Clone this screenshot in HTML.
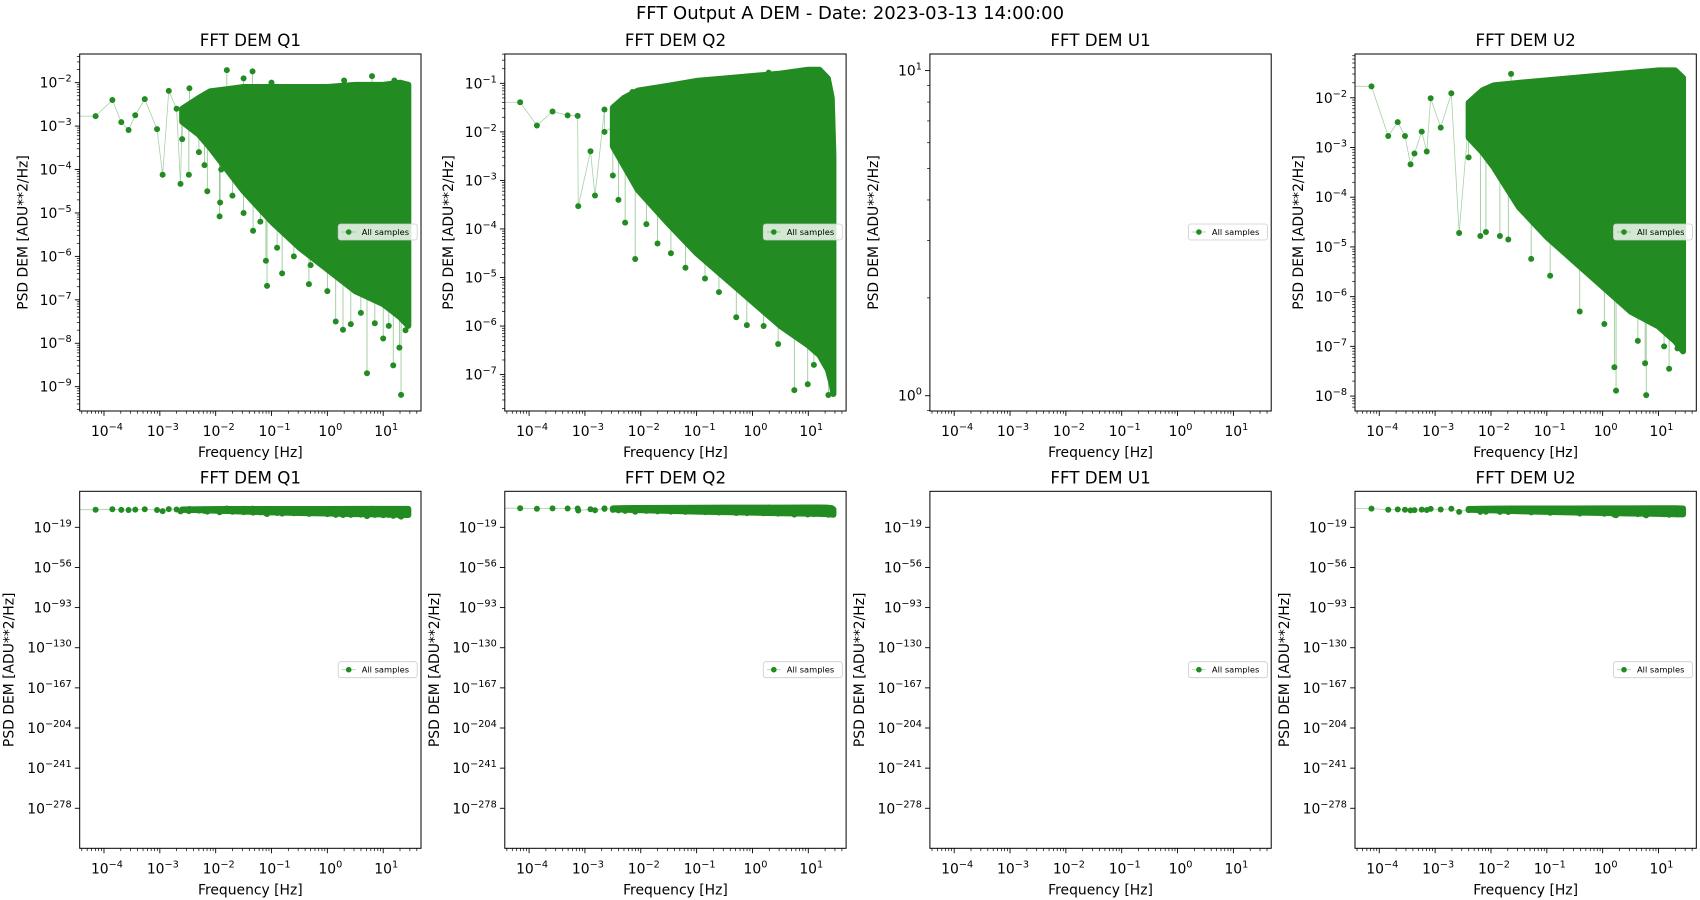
<!DOCTYPE html>
<html><head><meta charset="utf-8"><style>
html,body{margin:0;padding:0;background:#fff}
svg{display:block;font-family:"DejaVu Sans","Liberation Sans",sans-serif}
</style></head><body>
<svg id="fig" width="1700" height="900" viewBox="0 0 1700 900" xmlns="http://www.w3.org/2000/svg">
<rect width="1700" height="900" fill="#fff"/>
<text x="850" y="19" text-anchor="middle" font-size="18">FFT Output A DEM - Date: 2023-03-13 14:00:00</text>
</svg>
<script>
// ---- data (log10 values) ----
const panelTitles = ["FFT DEM Q1","FFT DEM Q2","FFT DEM U1","FFT DEM U2"];
const xTickExps = [-4,-3,-2,-1,0,1];
const topYLims = [[-9.56,-1.34],[-7.75,-0.396],[-0.047,1.051],[-8.3,-1.12]];
const topYTicks = [[-9,-8,-7,-6,-5,-4,-3,-2],[-7,-6,-5,-4,-3,-2,-1],[0,1],[-8,-7,-6,-5,-4,-3,-2]];
const bottomYLim = [-314.9,14.2];
const bottomYTicks = [-19,-56,-93,-130,-167,-204,-241,-278];

const q1EnvF  = [-2.6,-2.3,-2.1,-1.8,-1.5,-1,-0.5,0,0.5,1,1.3,1.45];
const q1EnvHi = [-2.6,-2.35,-2.2,-2.15,-2.1,-2.1,-2.1,-2.1,-2.05,-2.05,-2.0,-2.05];
const q1EnvLo = [-2.9,-3.2,-3.5,-4.0,-4.5,-5.2,-5.8,-6.3,-6.8,-7.1,-7.4,-7.6];
const q1PtsF = [-4.15,-3.85,-3.69,-3.56,-3.44,-3.27,-3.05,-2.95,-2.84,-2.7,-2.63,-2.6,-2.48,-2.47,-2.4,-2.3,-2.2,-2.2,-2.15,-1.93,-1.92,-1.9,-1.8,-1.7,-1.5,-1.5,-1.34,-1.33,-1.2,-1.1,-1.08,-1.0,-0.9,-0.81,-0.6,-0.33,-0.3,0,0.15,0.28,0.3,0.42,0.6,0.71,0.8,0.85,1.0,1.1,1.18,1.2,1.29,1.32,1.4];
const q1PtsP = [-2.77,-2.40,-2.91,-3.09,-2.75,-2.38,-3.07,-4.12,-2.19,-2.6,-4.33,-3.3,-4.12,-2.13,-2.9,-3.6,-2.3,-3.9,-4.5,-5.08,-4.76,-4.0,-1.71,-4.6,-5.0,-1.9,-1.74,-5.41,-5.2,-6.10,-6.68,-2.0,-5.8,-6.39,-6.0,-6.64,-6.2,-6.8,-7.5,-7.69,-1.95,-7.56,-7.3,-8.69,-1.85,-7.54,-7.89,-7.6,-8.51,-1.95,-8.10,-9.19,-7.7];

const q2EnvF  = [-2.5,-2.3,-2.05,-1.5,-1,-0.5,0,0.5,1,1.2,1.35,1.42,1.45];
const q2EnvHi = [-1.5,-1.3,-1.15,-1.05,-0.95,-0.9,-0.85,-0.8,-0.72,-0.72,-0.9,-1.3,-2.5];
const q2EnvLo = [-2.3,-2.7,-3.2,-3.9,-4.5,-5.0,-5.5,-6.0,-6.4,-6.6,-6.9,-7.2,-7.4];
const q2PtsF = [-4.16,-3.86,-3.58,-3.31,-3.13,-3.12,-2.9,-2.82,-2.65,-2.65,-2.5,-2.4,-2.28,-2.15,-2.10,-1.9,-1.7,-1.46,-1.2,-0.85,-0.6,-0.29,-0.10,0.2,0.29,0.46,0.75,0.99,1.1,1.36];
const q2PtsP = [-1.39,-1.87,-1.58,-1.66,-1.67,-3.53,-2.4,-3.31,-1.54,-2.0,-2.9,-3.4,-3.87,-1.18,-4.62,-3.9,-4.3,-4.50,-4.8,-5.02,-5.3,-5.82,-5.98,-6.0,-0.78,-6.37,-7.32,-7.20,-6.8,-7.42];

const u2EnvF  = [-2.4,-2.15,-1.95,-1.5,-1,-0.5,0,0.5,1,1.3,1.44];
const u2EnvHi = [-2.1,-1.85,-1.75,-1.7,-1.65,-1.6,-1.55,-1.5,-1.45,-1.45,-1.6];
const u2EnvLo = [-2.8,-3.1,-3.4,-4.2,-4.8,-5.3,-5.8,-6.3,-6.6,-6.9,-7.1];
const u2PtsF = [-4.14,-3.84,-3.67,-3.54,-3.44,-3.37,-3.24,-3.15,-3.08,-2.9,-2.71,-2.57,-2.4,-2.19,-2.09,-1.84,-1.69,-1.64,-1.28,-0.94,-0.41,0.03,0.21,0.24,0.63,0.76,0.78,1.1,1.19,1.34];
const u2PtsP = [-1.77,-2.77,-2.49,-2.77,-3.34,-3.12,-2.68,-3.08,-2.01,-2.6,-1.91,-4.72,-3.2,-4.78,-4.70,-4.78,-4.85,-1.52,-5.24,-5.58,-6.30,-6.55,-7.42,-7.89,-6.89,-7.34,-7.98,-7.0,-7.45,-7.04];

const seriesEnvF  = [q1EnvF, q2EnvF, null, u2EnvF];
const seriesEnvHi = [q1EnvHi, q2EnvHi, null, u2EnvHi];
const seriesEnvLo = [q1EnvLo, q2EnvLo, null, u2EnvLo];
const seriesPtsF  = [q1PtsF, q2PtsF, null, u2PtsF];
const seriesPtsP  = [q1PtsP, q2PtsP, null, u2PtsP];

// ---- drawing ----
const NS="http://www.w3.org/2000/svg";
const svg=document.getElementById('fig');
const XMIN=-4.435, XMAX=1.677, PW=341.3, GREEN="#228B22";
function mk(tag,attrs,parent){const e=document.createElementNS(NS,tag);for(const k in attrs)e.setAttribute(k,attrs[k]);(parent||svg).appendChild(e);return e;}
function sup(parent,x,y,base,exp,anchor,fs){
  const t=mk('text',{x:x,y:y,'text-anchor':anchor,'font-size':fs},parent);
  const a=document.createElementNS(NS,'tspan');a.textContent=base;t.appendChild(a);
  const b=document.createElementNS(NS,'tspan');b.setAttribute('dy',-6);b.setAttribute('font-size',fs*0.7);
  b.textContent=(exp<0?'\u2212':'')+Math.abs(exp);t.appendChild(b);return t;
}
function drawPanel(i,row){
  const L=79.7+425.1*i, T=row===0?54:491.3, B=row===0?411:848.3;
  const ylim=row===0?topYLims[i]:bottomYLim;
  const sx=v=>L+(v-XMIN)/(XMAX-XMIN)*PW;
  const sy=v=>B-(v-ylim[0])/(ylim[1]-ylim[0])*(B-T);
  const g=mk('g',{});
  
  
  const cid='clip'+row+i;
  const cp=mk('clipPath',{id:cid},g);mk('rect',{x:L,y:T,width:PW,height:B-T},cp);
  const dg=mk('g',{'clip-path':'url(#'+cid+')'},g);
  
  
  if(seriesEnvF[i]){
    const F=seriesEnvF[i],H=seriesEnvHi[i],Lo=seriesEnvLo[i],PF=seriesPtsF[i],PP=seriesPtsP[i];
    const idx=PF.map((_,k)=>k).filter(k=>PF[k]<F[0]).sort((a,b)=>PF[a]-PF[b]);
    let d='M'+L+','+sy(PP[idx[0]]);
    idx.forEach(k=>{d+=' L'+sx(PF[k])+','+sy(PP[k]);});
    d+=' L'+sx(F[0])+','+sy((H[0]+Lo[0])/2);
    const ln=mk('path',{d:d,fill:'none',stroke:GREEN,'stroke-opacity':0.4,'stroke-width':0.8},dg);
    
    
    PF.forEach((f,k)=>{ if(f>=F[0]){
      let j=0;while(j<F.length-2&&F[j+1]<f)j++;
      const tt=Math.min(1,Math.max(0,(f-F[j])/(F[j+1]-F[j])));
      const lo=Lo[j]+(Lo[j+1]-Lo[j])*tt, hi=H[j]+(H[j+1]-H[j])*tt;
      const tgt=PP[k]<lo?lo:(PP[k]>hi?hi:null);
      if(tgt!==null){const w=mk('line',{x1:sx(f),y1:sy(PP[k]),x2:sx(f),y2:sy(tgt),stroke:GREEN,'stroke-opacity':0.5,'stroke-width':0.8},dg);
        
        }
    }});
    let p='';
    F.forEach((f,k)=>{p+=(k?' L':'M')+sx(f)+','+sy(H[k]);});
    for(let k=F.length-1;k>=0;k--)p+=' L'+sx(F[k])+','+sy(Lo[k]);
    p+='Z';
    const cl=mk('path',{d:p,fill:GREEN,stroke:GREEN,'stroke-width':6,'stroke-linejoin':'round'},dg);
    
    
    PF.forEach((f,k)=>{const c=mk('circle',{cx:sx(f),cy:sy(PP[k]),r:3,fill:GREEN},dg);
      
      });
  }
  const fr=mk('rect',{x:L,y:T,width:PW,height:B-T,fill:'none',stroke:'#000','stroke-width':1},g);
  
  
  const xa=mk('g',{},g);
  
  
  for(let e=-5;e<=1;e++){for(let m=1;m<10;m++){const v=e+Math.log10(m);if(v<XMIN||v>XMAX)continue;
    mk('line',{x1:sx(v),y1:B,x2:sx(v),y2:B+(m===1?4.9:2.8),stroke:'#000','stroke-width':m===1?0.9:0.7},xa);}}
  xTickExps.forEach(e=>{const t=sup(xa,sx(e)+3,B+25,'10',e,'middle',13.9);
    
    });
  const xl=mk('text',{x:L+PW/2,y:B+46,'text-anchor':'middle','font-size':13.9},xa);xl.textContent='Frequency [Hz]';
  
  
  const ya=mk('g',{},g);
  
  
  if(row===0){
    for(let e=Math.floor(ylim[0]);e<=Math.ceil(ylim[1]);e++){for(let m=1;m<10;m++){const v=e+Math.log10(m);if(v<ylim[0]||v>ylim[1])continue;
      mk('line',{x1:L,y1:sy(v),x2:L-(m===1?4.9:2.8),y2:sy(v),stroke:'#000','stroke-width':m===1?0.9:0.7},ya);}}
  }else{
    bottomYTicks.forEach(e=>mk('line',{x1:L,y1:sy(e),x2:L-4.9,y2:sy(e),stroke:'#000','stroke-width':0.9},ya));
  }
  const yt=row===0?topYTicks[i]:bottomYTicks;
  yt.forEach(e=>{const t=sup(ya,L-8,sy(e)+5,'10',e,'end',13.9);
    
    });
  const ylx=row===0?L-52:L-66;
  const yl=mk('text',{x:ylx,y:(T+B)/2,'text-anchor':'middle','font-size':13.9,transform:'rotate(-90 '+ylx+' '+(T+B)/2+')'},ya);
  yl.textContent='PSD DEM [ADU**2/Hz]';
  
  
  const tt=mk('text',{x:L+PW/2,y:T-8,'text-anchor':'middle','font-size':16.7},g);tt.textContent=panelTitles[i];
  
  
  const lgY=row===0?224:661.7;
  const lg=mk('g',{},g);
  
  
  mk('rect',{x:L+258.5,y:lgY,width:79,height:16,rx:2.5,fill:'#fff','fill-opacity':0.8,stroke:'#ccc','stroke-width':0.8},lg);
  mk('line',{x1:L+262,y1:lgY+8,x2:L+276,y2:lgY+8,stroke:GREEN,'stroke-opacity':0.4,'stroke-width':0.8},lg);
  mk('circle',{cx:L+269,cy:lgY+8,r:2.8,fill:GREEN},lg);
  const lt=mk('text',{x:L+282,y:lgY+11,'font-size':8.3},lg);lt.textContent='All samples';
}
for(let r=0;r<2;r++)for(let i=0;i<4;i++)drawPanel(i,r);
</script>
</body></html>
